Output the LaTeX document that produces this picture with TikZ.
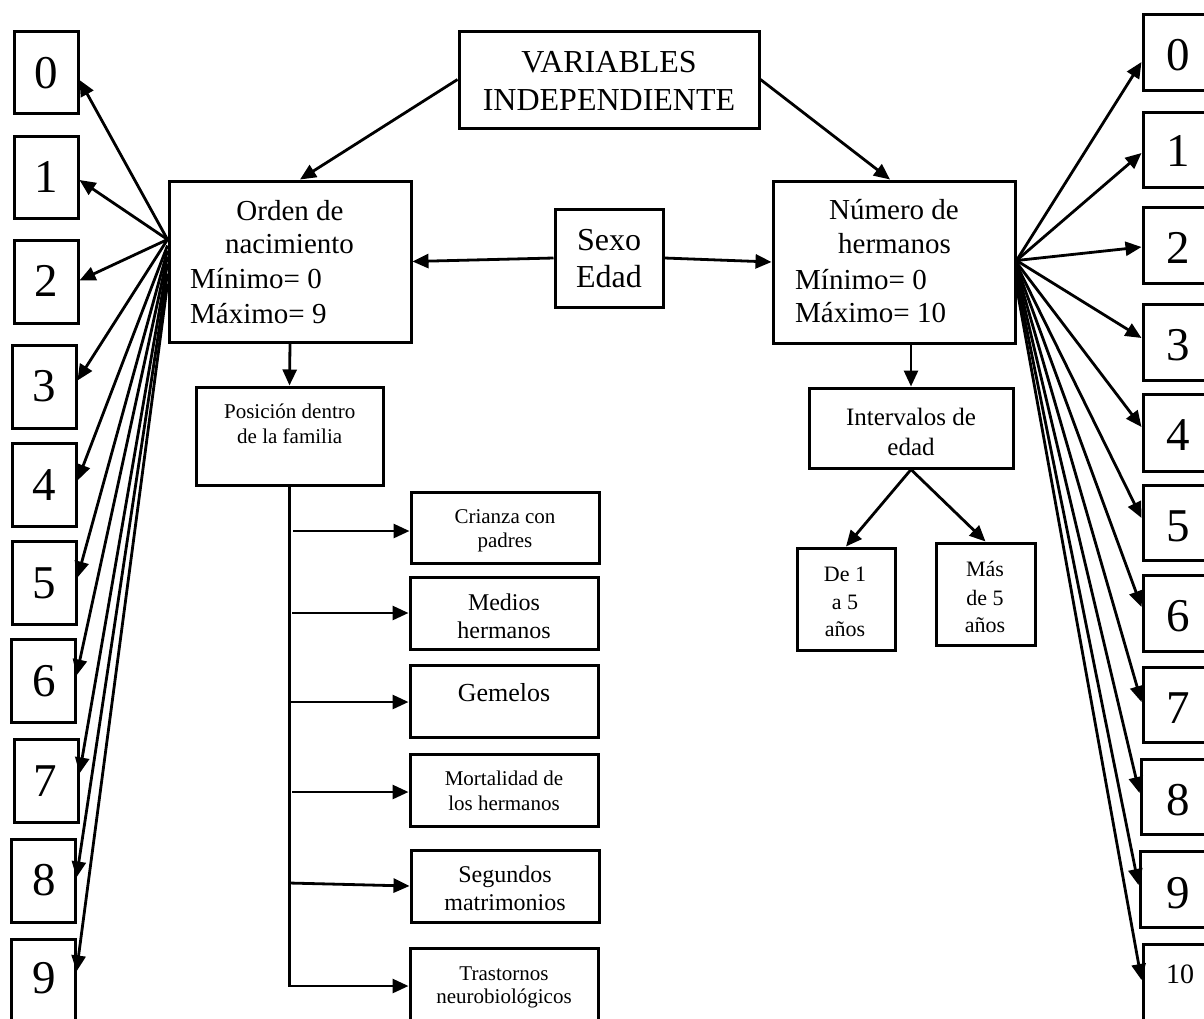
\documentclass[tikz,border=0pt]{standalone}
\usepackage{fontspec}
\setmainfont{Liberation Serif}
\usetikzlibrary{arrows.meta,calc}
\newcommand\myfs[2]{\fontsize{#1}{#2}\selectfont}
\tikzset{
  bx/.style={draw, line width=3pt, rectangle, inner sep=0pt},
  conn/.style={line width=2.8pt, -{Triangle[length=16pt,width=14pt]}},
  tx/.style={inner sep=0pt, anchor=base},
  txl/.style={inner sep=0pt, anchor=base west},
}
\newcommand\mkbox[5]{\node[bx, minimum width={(#4)-(#2)}, minimum height={(#5)-(#3)}] (#1) at ({((#2)+(#4))/2},{((#3)+(#5))/2}) {};}
\begin{document}
\begin{tikzpicture}[x=1pt,y=-1pt]
\useasboundingbox (0,0) rectangle (1204,1018);
\clip (0,0) rectangle (1204,1018);
\fill[white] (0,0) rectangle (1204,1018);

% main boxes
\mkbox{var}{459}{31}{759}{128}
\mkbox{orden}{169}{181}{411}{342}
\mkbox{sexo}{555}{209}{663}{307}
\mkbox{numero}{773}{181}{1015}{343}
\mkbox{posicion}{196}{387}{383}{485}
\mkbox{crianza}{411}{492}{599}{563}
\mkbox{medios}{410}{577}{598}{649}
\mkbox{gemelos}{410}{665}{598}{737}
\mkbox{mortal}{410}{754}{598}{826}
\mkbox{segundos}{411}{850}{599}{922}
\mkbox{trast}{410}{948}{598}{1024}
\mkbox{interv}{809}{388}{1013}{468}
\mkbox{deuno}{797}{548}{895}{650}
\mkbox{mas}{936}{543}{1035}{645}

% texts
\node[tx, font=\myfs{32}{38}] (tvar1) at (609,72) {VARIABLES};
\node[tx, font=\myfs{32}{38}] (tvar2) at (609,110) {INDEPENDIENTE};
\node[tx, font=\myfs{29}{34}] (tord1) at (290,220) {Orden de};
\node[tx, font=\myfs{29}{34}] (tord2) at (289.5,253) {nacimiento};
\node[txl, font=\myfs{29}{34}] (tord3) at (190,288) {Mínimo= 0};
\node[txl, font=\myfs{29}{34}] (tord4) at (190,323) {Máximo= 9};
\node[tx, font=\myfs{32}{37}] (tsex1) at (609,250) {Sexo};
\node[tx, font=\myfs{32}{37}] (tsex2) at (609,287) {Edad};
\node[tx, font=\myfs{29}{34}] (tnum1) at (894,219) {Número de};
\node[tx, font=\myfs{29}{34}] (tnum2) at (894.5,253) {hermanos};
\node[txl, font=\myfs{29}{34}] (tnum3) at (795,289) {Mínimo= 0};
\node[txl, font=\myfs{29}{34}] (tnum4) at (795,322) {Máximo= 10};
\node[tx, font=\myfs{21}{25}] (tpos1) at (289.7,418) {Posición dentro};
\node[tx, font=\myfs{21}{25}] (tpos2) at (289.7,443) {de la familia};
\node[tx, font=\myfs{21}{25}] (tcri1) at (505,523) {Crianza con};
\node[tx, font=\myfs{21}{25}] (tcri2) at (505,547) {padres};
\node[tx, font=\myfs{24}{28}] (tmed1) at (504,610) {Medios};
\node[tx, font=\myfs{24}{28}] (tmed2) at (504,638) {hermanos};
\node[tx, font=\myfs{26}{30}] (tgem) at (504,701) {Gemelos};
\node[tx, font=\myfs{21}{25}] (tmor1) at (504,785) {Mortalidad de};
\node[tx, font=\myfs{21}{25}] (tmor2) at (504,810.5) {los hermanos};
\node[tx, font=\myfs{24}{28}] (tseg1) at (505,882.5) {Segundos};
\node[tx, font=\myfs{24}{28}] (tseg2) at (505,910.5) {matrimonios};
\node[tx, font=\myfs{21}{25}] (ttra1) at (504,980) {Trastornos};
\node[tx, font=\myfs{21}{25}] (ttra2) at (504,1003) {neurobiológicos};
\node[tx, font=\myfs{25}{30}] (tint1) at (911,425) {Intervalos de};
\node[tx, font=\myfs{25}{30}] (tint2) at (911,455) {edad};
\node[tx, font=\myfs{22}{27}] (tde1) at (845,581.5) {De 1};
\node[tx, font=\myfs{22}{27}] (tde2) at (845,609) {a 5};
\node[tx, font=\myfs{22}{27}] (tde3) at (845,636) {años};
\node[tx, font=\myfs{22}{27}] (tmas1) at (985,576.5) {Más};
\node[tx, font=\myfs{22}{27}] (tmas2) at (985,605) {de 5};
\node[tx, font=\myfs{22}{27}] (tmas3) at (985,632.5) {años};

% left digit boxes
\foreach \n/\xa/\ya/\xb/\yb/\tX/\tY in {0/14/31/78/113/46/88, 1/14/136/78/218/46.5/192.7, 2/14/240/78/323/46/296.7, 3/12/345/76/428/44/401.7, 4/12/443/76/526/44/500, 5/12/541/76/624/44/598.3, 6/11/639/75/722/44/696.7, 7/14/739/78/822/45/796, 8/11/839/75/922/44/895, 9/11/939/75/1024/44/993.3}{
  \mkbox{L\n}{\xa}{\ya}{\xb}{\yb}
  \node[tx, font=\myfs{47}{50}] (tL\n) at (\tX,\tY) {\n};
}
% right digit boxes
\foreach \n/\xa/\ya/\xb/\yb/\tY in {0/1143/14/1213/90/70, 1/1143/112/1213/187/166.7, 2/1143/207/1213/283/263.3, 3/1143/304/1213/380/360, 4/1143/394/1213/471/450, 5/1143/485/1213/560/541.7, 6/1143/575/1213/651/631.7, 7/1143/667/1213/742/723.3, 8/1141/759/1211/834/815, 9/1140/851/1210/927/908.3}{
  \mkbox{R\n}{\xa}{\ya}{\xb}{\yb}
  \node[tx, font=\myfs{47}{50}] (tR\n) at (1178.5,\tY) {\n};
}
\mkbox{R10}{1143}{944}{1213}{1024}
\node[tx, font=\myfs{28}{32}] (tR10) at (1180,983.3) {10};

% top connectors
\draw[conn] (var.west) -- ($(orden.north)+(10,0)$);
\draw[conn] (var.east) -- ($(numero.north)+(-4,0)$);
\draw[conn] (sexo.west) -- (orden.east);
\draw[conn] (sexo.east) -- (numero.west);
\draw[conn] (orden.south) -- (posicion.north);
\draw[conn] (interv.north |- numero.south) -- (interv.north);
\draw[conn] (interv.south) -- (deuno.north);
\draw[conn] (interv.south) -- (mas.north);

% left fan
\foreach \n/\sy/\dy in {0/241/8, 1/241/3, 2/241/-1, 3/241/-6, 4/247/-4, 5/252/-5, 6/258/-5, 7/265/-7, 8/275/-3, 9/285/-10}{
  \draw[conn] ($(orden.north west)+(0,{\sy-181})$) -- ($(L\n.east)+(0,\dy)$);
}
% right fan
\foreach \n/\sy/\dy in {0/262/10, 1/262/3.5, 2/262/2, 3/262/-4, 4/264/-5.5, 5/266/-4.5, 6/268/-6, 7/271/-2.5, 8/275/-3.5, 9/280/-4, 10/288/-4}{
  \draw[conn] ($(numero.north east)+(0,{\sy-181})$) -- ($(R\n.west)+(0,\dy)$);
}

% family branch
\draw[conn] (posicion.south) |- (trast.west);
\coordinate (bc) at (293,531);
\coordinate (bm) at (292,613);
\coordinate (bg) at (289,702);
\coordinate (bo) at (292,792);
\coordinate (bs) at (289,883);
\draw[conn] (bc) -- (bc -| crianza.west);
\draw[conn] (bm) -- (bm -| medios.west);
\draw[conn] (bg) -- (bg -| gemelos.west);
\draw[conn] (bo) -- (bo -| mortal.west);
\draw[conn] (bs) -- (segundos.west);
\end{tikzpicture}
\end{document}
